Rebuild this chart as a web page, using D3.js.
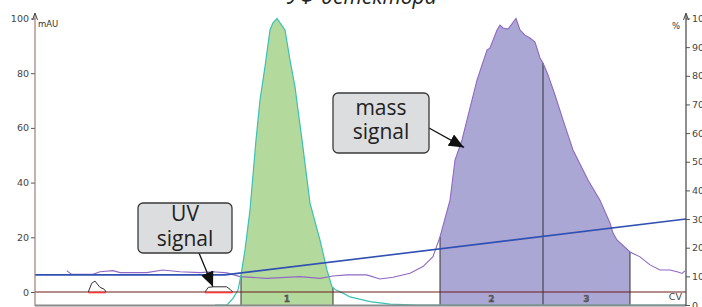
<!DOCTYPE html>
<html>
<head>
<meta charset="utf-8">
<script src="https://cdn.jsdelivr.net/npm/d3@7"></script>
<style>
  body { margin: 0; background: #fff; }
  svg { display: block; }
</style>
</head>
<body>
<div id="chart"></div>
<script>
// volume axis (arbitrary CV units), UV in mAU (left), mass in % (right)
const uvTrace = [
  [18.0, -4.75], [19.2, -4.75], [19.8, -2.3], [20.3, 0.7], [20.6, 6.2], [21.0, 15.4],
  [21.5, 30.0], [22.1, 55.6], [22.5, 70.2], [23.0, 82.4], [23.5, 95.8], [23.8, 98.4],
  [24.2, 100], [24.5, 98.4], [25.0, 95.8], [25.5, 84.8], [26.0, 75.0], [26.3, 66.5],
  [26.7, 55.6], [27.5, 32.5], [28.5, 19.0], [29.2, 8.0], [29.7, 1.9], [30.1, 0.7],
  [30.8, -0.4], [31.5, -1.8], [33.5, -3.5], [35.5, -4.4], [38.2, -4.75], [65.1, -4.75]
];
const smallPeaks = [
  [[5.33, 0], [5.67, 3.2], [6.0, 4.0], [6.23, 2.9], [6.5, 1.7], [6.93, 1.0], [7.1, 0]],
  [[17.0, 0], [17.33, 1.7], [17.83, 1.9], [19.17, 1.9], [19.5, 1.0], [19.77, 0]]
];
const massTrace = [
  [3.17, 12.0], [3.67, 10.7], [5.8, 10.7], [6.5, 11.6], [7.8, 12.0], [8.5, 11.3],
  [11.17, 11.3], [12.8, 12.2], [14.5, 11.6], [16.5, 11.3], [17.8, 11.6], [19.2, 11.2],
  [20.5, 9.9], [23.17, 9.3], [26.5, 9.9], [28.5, 9.3], [29.8, 10.1], [31.17, 10.5],
  [33.17, 10.5], [34.5, 9.1], [35.8, 9.7], [37.5, 11.1], [38.8, 13.4], [39.8, 16.9],
  [40.5, 23.8], [41.5, 36.6], [42.0, 50.6], [42.7, 57.6], [43.2, 64.6], [44.2, 78.5],
  [45.2, 89.0], [45.5, 89.7], [46.2, 96.0], [46.5, 97.7], [46.8, 96.7], [47.3, 96.3],
  [48.1, 100], [48.5, 96.0], [49.0, 94.2], [49.5, 93.2], [50.0, 91.8], [50.5, 86.2],
  [50.8, 84.5], [51.3, 80.3], [52.0, 73.3], [52.8, 64.6], [53.8, 54.1], [55.3, 43.6],
  [56.5, 36.6], [57.5, 28.6], [57.8, 25.1], [58.2, 22.7], [59.5, 18.5], [60.5, 16.8],
  [61.5, 14.0], [62.5, 12.2], [63.5, 12.2], [64.3, 11.5], [64.7, 11.0], [65.0, 11.9]
];
const gradient = [[0, 10.5], [19.0, 10.5], [65.1, 30]];
const uvFraction = [20.6, 29.8];
const massFractions = [[40.5, 50.8], [50.8, 59.5]];
const fractionNames = ["1", "2", "3"];
const redZones = [[5.33, 7.1], [17.0, 19.77]];
const leftTicks = [0, 20, 40, 60, 80, 100];
const rightTicks = [0, 10, 20, 30, 40, 50, 60, 70, 80, 90, 100];

const width = 702, height = 307;
const svg = d3.select("#chart").append("svg")
  .attr("width", width).attr("height", height);

const x = d3.scaleLinear().domain([0, 65.1]).range([35, 686]);
const yL = d3.scaleLinear().domain([-4.75, 100]).range([305, 18.5]);
const yR = d3.scaleLinear().domain([0, 100]).range([305, 18.5]);

// cut-off heading at the top
svg.append("text")
  .attr("x", 287).attr("y", 4)
  .style("font-family", "Open Sans").style("font-style", "italic")
  .style("font-size", "21px").attr("fill", "#222")
  .text("УФ-детектора");

function interp(data, v) {
  const i = d3.bisector(d => d[0]).left(data, v);
  if (i <= 0) return data[0][1];
  if (i >= data.length) return data[data.length - 1][1];
  const a = data[i - 1], b = data[i];
  return a[1] + (b[1] - a[1]) * (v - a[0]) / (b[0] - a[0]);
}
function slice(data, lo, hi) {
  const pts = data.filter(d => d[0] > lo && d[0] < hi);
  return [[lo, interp(data, lo)], ...pts, [hi, interp(data, hi)]];
}

// fills
const uvArea = d3.area().x(d => x(d[0])).y0(yL(-4.75)).y1(d => yL(d[1]));
svg.append("path")
  .datum(slice(uvTrace, uvFraction[0], uvFraction[1]))
  .attr("d", uvArea).attr("fill", "#b4d99c");

const massArea = d3.area().x(d => x(d[0])).y0(yR(0)).y1(d => yR(d[1]));
massFractions.forEach(f => {
  svg.append("path")
    .datum(slice(massTrace, f[0], f[1]))
    .attr("d", massArea).attr("fill", "#aaa7d4");
});

// fraction borders
const cuts = [
  [uvFraction[0], yL(interp(uvTrace, uvFraction[0]))],
  [uvFraction[1], yL(interp(uvTrace, uvFraction[1]))],
  [massFractions[0][0], yR(interp(massTrace, massFractions[0][0]))],
  [massFractions[0][1], yR(interp(massTrace, massFractions[0][1]))],
  [massFractions[1][1], yR(interp(massTrace, massFractions[1][1]))]
];
svg.selectAll(".cut").data(cuts).join("line")
  .attr("x1", d => x(d[0])).attr("x2", d => x(d[0]))
  .attr("y1", d => d[1]).attr("y2", 305)
  .attr("stroke", "#333").attr("stroke-width", 1);

const fracCenters = [uvFraction, ...massFractions].map(f => (f[0] + f[1]) / 2);
svg.selectAll(".frac").data(fracCenters).join("text")
  .attr("x", d => x(d)).attr("y", 302)
  .attr("text-anchor", "middle")
  .style("font-family", "DejaVu Sans").style("font-size", "9px").style("font-weight", "bold")
  .attr("fill", "#666").attr("stroke", "#333").attr("stroke-width", 0.3)
  .text((d, i) => fractionNames[i]);

// traces
const lineL = d3.line().x(d => x(d[0])).y(d => yL(d[1]));
const lineR = d3.line().x(d => x(d[0])).y(d => yR(d[1]));

svg.append("path").datum(massTrace).attr("d", lineR)
  .attr("fill", "none").attr("stroke", "#9068c4").attr("stroke-width", 1.1);

svg.append("path").datum(uvTrace).attr("d", lineL)
  .attr("fill", "none").attr("stroke", "#3cc0b4").attr("stroke-width", 1.2);

svg.append("line")
  .attr("x1", x(0)).attr("x2", x(65.1))
  .attr("y1", yL(0)).attr("y2", yL(0))
  .attr("stroke", "#6e1c1c").attr("stroke-width", 1.2);

svg.selectAll(".red").data(redZones).join("line")
  .attr("x1", d => x(d[0])).attr("x2", d => x(d[1]))
  .attr("y1", yL(0) + 0.5).attr("y2", yL(0) + 0.5)
  .attr("stroke", "#ff3838").attr("stroke-width", 1.6);

svg.selectAll(".peak").data(smallPeaks).join("path")
  .attr("d", lineL).attr("fill", "none")
  .attr("stroke", "#333").attr("stroke-width", 1);

svg.append("path").datum(gradient).attr("d", lineR)
  .attr("fill", "none").attr("stroke", "#3050b2").attr("stroke-width", 1.6);

// axes
const axisFont = g => g.selectAll("text")
  .style("font-family", "DejaVu Sans").style("font-size", "9.5px").attr("fill", "#444");

const leftAxis = svg.append("g").attr("transform", `translate(${x(0)},0)`)
  .call(d3.axisLeft(yL).tickValues(leftTicks).tickSize(4).tickPadding(2));
leftAxis.select(".domain").remove();
leftAxis.selectAll("line").attr("stroke", "#555");
leftAxis.call(axisFont);

const rightAxis = svg.append("g").attr("transform", `translate(${x(65.1)},0)`)
  .call(d3.axisRight(yR).tickValues(rightTicks).tickSize(4).tickPadding(2));
rightAxis.select(".domain").remove();
rightAxis.selectAll("line").attr("stroke", "#555");
rightAxis.call(axisFont);

svg.append("line")
  .attr("x1", x(0)).attr("x2", x(65.1)).attr("y1", 305.5).attr("y2", 305.5)
  .attr("stroke", "#8a8a8a").attr("stroke-width", 2);

svg.append("line")
  .attr("x1", x(0)).attr("x2", x(0)).attr("y1", 306).attr("y2", 14)
  .attr("stroke", "#a07c7c").attr("stroke-width", 1.2);
svg.append("line")
  .attr("x1", x(65.1)).attr("x2", x(65.1)).attr("y1", 306).attr("y2", 14)
  .attr("stroke", "#444").attr("stroke-width", 1.2);

[x(0), x(65.1)].forEach(ax => {
  svg.append("path")
    .attr("d", `M${ax - 2.5},${20} L${ax},${13} L${ax + 2.5},${20}`)
    .attr("fill", "none").attr("stroke", "#444").attr("stroke-width", 1);
});

svg.append("text").attr("x", x(0) + 3).attr("y", 27)
  .style("font-family", "DejaVu Sans").style("font-size", "8.5px").attr("fill", "#333")
  .text("mAU");
svg.append("text").attr("x", x(65.1) - 6).attr("y", 29)
  .attr("text-anchor", "end")
  .style("font-family", "DejaVu Sans").style("font-size", "8.5px").attr("fill", "#333")
  .text("%");
svg.append("text").attr("x", x(65.1) - 4).attr("y", 300)
  .attr("text-anchor", "end")
  .style("font-family", "DejaVu Sans").style("font-size", "9.5px").attr("fill", "#444")
  .text("CV");

// callouts
svg.append("defs").append("marker")
  .attr("id", "head").attr("viewBox", "0 0 10 10")
  .attr("refX", 10).attr("refY", 5)
  .attr("markerWidth", 15).attr("markerHeight", 13)
  .attr("markerUnits", "userSpaceOnUse").attr("orient", "auto")
  .attr("preserveAspectRatio", "none")
  .append("path").attr("d", "M0,0 L10,5 L0,10 Z").attr("fill", "#111");

function callout(box, lines, from, to) {
  svg.append("line")
    .attr("x1", from[0]).attr("y1", from[1]).attr("x2", to[0]).attr("y2", to[1])
    .attr("stroke", "#111").attr("stroke-width", 1.3)
    .attr("marker-end", "url(#head)");
  svg.append("rect")
    .attr("x", box[0]).attr("y", box[1]).attr("width", box[2]).attr("height", box[3])
    .attr("rx", 5).attr("fill", "#dcdddf").attr("stroke", "#3a3a3a").attr("stroke-width", 1.3);
  svg.selectAll(null).data(lines).join("text")
    .attr("x", box[0] + box[2] / 2).attr("y", d => d[1])
    .attr("text-anchor", "middle")
    .style("font-family", "Open Sans").style("font-size", "21px").attr("fill", "#222")
    .text(d => d[0]);
}

callout([138, 203, 94, 50], [["UV", 221], ["signal", 246]],
  [199, 253], [x(17.8), yL(1.9)]);
callout([333, 93, 96, 60], [["mass", 115], ["signal", 139]],
  [429, 128], [x(42.9), yR(55)]);
</script>
</body>
</html>
